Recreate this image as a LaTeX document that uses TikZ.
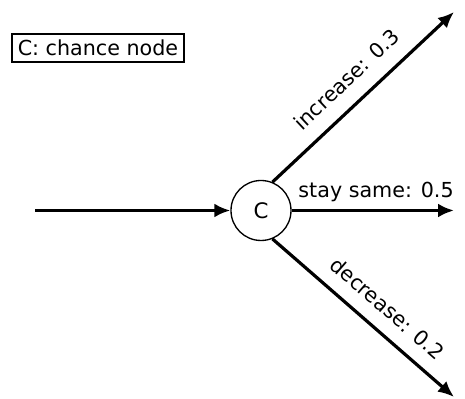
\documentclass[tikz,border=0pt]{standalone}
\usepackage{fontspec}
\setmainfont{DejaVu Sans}
\usetikzlibrary{arrows.meta, positioning}

\begin{document}
\begin{tikzpicture}[x=0.75pt, y=0.75pt,
		branch/.style={line width=2.4pt, -{Latex[length=12pt, width=10.5pt]}},
		lbl/.style={font=\fontsize{15.5}{17}\selectfont}]
	\useasboundingbox (0,0) rectangle (465,399);
	% Key in the corner
	\node[draw, line width=1.1pt, lbl, inner xsep=1pt, minimum width=129pt, minimum height=21pt] (key) at (98,351) {C: chance node};
	% The chance node
	\node[draw, circle, line width=1pt, minimum size=45pt, inner sep=0pt, font=\fontsize{16}{18}\selectfont] (C) at (261,188.5) {C};
	% Loose ends of the arrows
	\coordinate (in) at (35,188.5);
	\coordinate (up) at (454,387);
	\coordinate (same) at (454,188.5);
	\coordinate (down) at (454,2);
	% Incoming arc and the three outcomes
	\draw[branch] (in) -- (C);
	\draw[branch] (C.68) -- (up) node[pos=0.5, sloped, above=8pt, lbl] {increase: 0.3};
	\draw[branch] (C) -- (same) node[pos=0.52, above=2pt, lbl] {stay same: 0.5};
	\draw[branch] (C.-68) -- (down) node[pos=0.55, sloped, above=7pt, lbl] {decrease: 0.2};
\end{tikzpicture}
\end{document}
